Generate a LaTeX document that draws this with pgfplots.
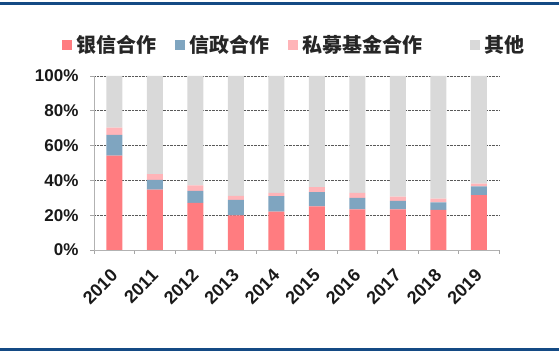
\documentclass[border=0pt]{standalone}
\usepackage{pgfplots}
\pgfplotsset{compat=1.18}
\usepackage{fontspec}
\setmainfont{Liberation Sans}
\newfontfamily\cjk{Noto Sans CJK SC}
\definecolor{cRed}{HTML}{FF7C80}
\definecolor{cBlue}{HTML}{7FA5C0}
\definecolor{cPink}{HTML}{FFB4B8}
\definecolor{cGray}{HTML}{D9D9D9}
\definecolor{frameblue}{HTML}{144A84}
\pgfplotsset{sqleg/.style={legend image code/.code={\fill[##1] (0pt,-5pt) rectangle (10pt,5pt);}}}
\begin{document}
\begin{tikzpicture}[x=1pt,y=1pt]
\path[use as bounding box] (0,0) rectangle (559,355);
\draw[frameblue, line width=3pt] (0,351) -- (559,351);
\draw[frameblue, line width=3pt] (0,5) -- (559,5);
\begin{axis}[
  at={(94pt,105pt)}, anchor=south west, scale only axis,
  width=405pt, height=174pt,
  ybar stacked, bar width=16pt,
  xmin=-0.5, xmax=9.5, ymin=0, ymax=100,
  axis lines*=left,
  axis line style={black!30, line width=0.8pt},
  tick align=outside,
  major tick length=4pt,
  tick style={black!35, line width=0.8pt},
  xtick={-0.5,0.5,1.5,2.5,3.5,4.5,5.5,6.5,7.5,8.5,9.5},
  xticklabels={},
  extra x ticks={0,1,2,3,4,5,6,7,8,9},
  extra x tick labels={2010,2011,2012,2013,2014,2015,2016,2017,2018,2019},
  extra x tick style={major tick length=0pt, tick label style={font=\bfseries\fontsize{18}{21}\selectfont, xshift=-4.5pt, yshift=-13pt, rotate=45, anchor=north east}},
  ytick={0,20,40,60,80,100},
  yticklabel={\pgfmathprintnumber{\tick}\%},
  yticklabel style={xshift=-8pt},
  /pgf/number format/assume math mode=true,
  ymajorgrids,
  grid style={densely dotted, black!65, line width=0.8pt},
  tick label style={font=\bfseries\fontsize{17}{20}\selectfont, text=black!90},
  legend columns=4,
  legend style={draw=none, fill=none, at={(0.494,1.178)}, anchor=center,
    font=\cjk\bfseries\fontsize{20}{24}\selectfont, text=black!85,
    /tikz/every odd column/.append style={column sep=3pt},
    /tikz/every even column/.append style={column sep=16pt}},
]
\addplot[fill=cRed, draw=none, sqleg] coordinates {(0,54.3) (1,34.7) (2,27.1) (3,19.9) (4,22.1) (5,25.1) (6,23.4) (7,23.4) (8,23.0) (9,31.5)};
\addlegendentry{银信合作}
\addplot[fill=cBlue, draw=none, sqleg] coordinates {(0,11.9) (1,5.6) (2,6.9) (3,8.9) (4,8.8) (5,8.1) (6,6.5) (7,4.8) (8,4.4) (9,5.0)};
\addlegendentry{信政合作}
\addplot[fill=cPink, draw=none, sqleg] coordinates {(0,4.1) (1,3.3) (2,3.2) (3,2.3) (4,1.9) (5,2.9) (6,2.9) (7,2.5) (8,2.1) (9,1.7)};
\addlegendentry{私募基金合作\hspace*{29pt}}
\addplot[fill=cGray, draw=none, sqleg] coordinates {(0,29.7) (1,56.4) (2,62.8) (3,68.9) (4,67.2) (5,63.9) (6,67.2) (7,69.3) (8,70.5) (9,61.8)};
\addlegendentry{其他}
\end{axis}
\end{tikzpicture}
\end{document}
